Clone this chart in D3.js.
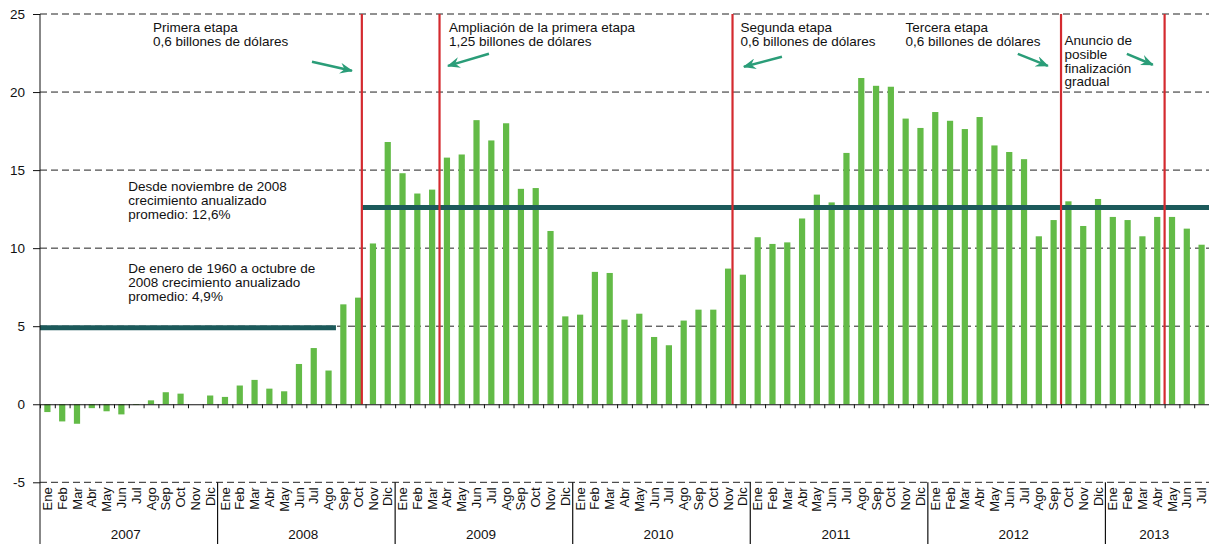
<!DOCTYPE html>
<html>
<head>
<meta charset="utf-8">
<script src="https://cdn.jsdelivr.net/npm/d3@7"></script>
<style>
  body { margin: 0; background: #fff; }
  svg { display: block; font-family: "Liberation Sans", Arial, sans-serif; }
</style>
</head>
<body>
<div id="chart"></div>
<script>
// month names and years shown on the x axis
const months = ["Ene", "Feb", "Mar", "Abr", "May", "Jun", "Jul", "Ago", "Sep", "Oct", "Nov", "Dic"];
const years = [2007, 2008, 2009, 2010, 2011, 2012, 2013];

// annualized growth, monthly (Ene 2007 .. Jul 2013)
const growth = [
  -0.5, -1.1, -1.25, -0.25, -0.45, -0.65, -0.05, 0.25, 0.77, 0.68, 0, 0.56,
  0.47, 1.2, 1.56, 1.0, 0.83, 2.58, 3.6, 2.16, 6.4, 6.83, 10.3, 16.8,
  14.8, 13.5, 13.75, 15.8, 16.0, 18.2, 16.9, 18.0, 13.8, 13.85, 11.1, 5.63,
  5.74, 8.48, 8.41, 5.42, 5.8, 4.31, 3.78, 5.36, 6.06, 6.06, 8.69, 8.3,
  10.7, 10.27, 10.37, 11.9, 13.43, 12.93, 16.1, 20.9, 20.4, 20.34, 18.3, 17.7,
  18.72, 18.16, 17.63, 18.4, 16.58, 16.16, 15.7, 10.76, 11.8, 13.0, 11.42, 13.15,
  12.0, 11.8, 10.76, 12.0, 12.0, 11.25, 10.22
];

const yTicks = [-5, 0, 5, 10, 15, 20, 25];

// average growth lines: [from month, to month, value]
const averages = [
  [0, 20, 4.9],
  [21.75, 79, 12.6]
];

// positions of the program stages (in months from Ene 2007)
const stageMarks = [21.75, 27, 46.8, 69, 76];

// annotation texts: month position, value of first baseline
const notes = [
  { at: 7.64, v: 23.83, lines: ["Primera etapa", "0,6 billones de dólares"] },
  { at: 27.64, v: 23.83, lines: ["Ampliación de la primera etapa", "1,25 billones de dólares"] },
  { at: 47.34, v: 23.83, lines: ["Segunda etapa", "0,6 billones de dólares"] },
  { at: 58.49, v: 23.83, lines: ["Tercera etapa", "0,6 billones de dólares"] },
  { at: 69.24, v: 23.03, lines: ["Anuncio de", "posible", "finalización", "gradual"] },
  { at: 5.97, v: 13.64, lines: ["Desde noviembre de 2008", "crecimiento anualizado", "promedio: 12,6%"] },
  { at: 5.97, v: 8.41, lines: ["De enero de 1960 a octubre de", "2008 crecimiento anualizado", "promedio: 4,9%"] }
];

// arrows: [from month, from value, to month, to value]
const arrows = [
  [18.38, 21.94, 21.08, 21.36],
  [30.34, 22.45, 27.57, 21.68],
  [50.14, 22.26, 47.57, 21.62],
  [66.08, 22.45, 68.11, 21.68],
  [73.45, 22.45, 75.2, 21.75]
];

const width = 1209, height = 544;
const left = 40, right = 1209;
const n = growth.length;

const labels = [];
years.forEach(yr => months.forEach(m => labels.push({ yr, m })));
labels.length = n;

const svg = d3.select("#chart").append("svg")
  .attr("width", width)
  .attr("height", height);

const y = d3.scaleLinear().domain([-5, 25]).range([482.3, 14]);
// month index -> boundary position
const pos = d3.scaleLinear().domain([0, n]).range([left, right]);
const x = d3.scaleBand()
  .domain(d3.range(n))
  .range([left, right])
  .paddingInner(0.58)
  .paddingOuter(0.29);

// dashed grid
svg.append("g").selectAll("line")
  .data(yTicks.filter(d => d !== 0))
  .join("line")
  .attr("x1", left).attr("x2", right)
  .attr("y1", d => y(d)).attr("y2", d => y(d))
  .attr("stroke", "#222")
  .attr("stroke-width", 1)
  .attr("stroke-dasharray", "7,4");

// bars
svg.append("g").selectAll("rect")
  .data(growth)
  .join("rect")
  .attr("x", (d, i) => x(i))
  .attr("width", x.bandwidth())
  .attr("y", d => y(Math.max(0, d)))
  .attr("height", d => Math.abs(y(d) - y(0)))
  .attr("fill", "#63bb47");

// average lines
svg.append("g").selectAll("line")
  .data(averages)
  .join("line")
  .attr("x1", d => pos(d[0])).attr("x2", d => pos(d[1]))
  .attr("y1", d => y(d[2])).attr("y2", d => y(d[2]))
  .attr("stroke", "#1c5a5b")
  .attr("stroke-width", 5);

// stage lines
svg.append("g").selectAll("line")
  .data(stageMarks)
  .join("line")
  .attr("x1", d => pos(d)).attr("x2", d => pos(d))
  .attr("y1", y(25)).attr("y2", y(0))
  .attr("stroke", "#d42a2f")
  .attr("stroke-width", 2.2);

// zero line with month ticks
svg.append("g")
  .attr("transform", `translate(0,${y(0)})`)
  .call(d3.axisBottom(pos).tickValues(d3.range(n + 1)).tickSize(4).tickSizeOuter(0).tickFormat(""))
  .call(g => g.selectAll("line, path").attr("stroke", "#111"));

// y axis
svg.append("g")
  .attr("transform", `translate(${left},0)`)
  .call(d3.axisLeft(y).tickValues(yTicks).tickSize(7).tickPadding(8).tickFormat(d => String(d)))
  .call(g => g.select(".domain").remove())
  .call(g => g.selectAll("line").attr("stroke", "#111"))
  .call(g => g.selectAll("text")
    .style("font-size", "13.5px")
    .style("font-family", "'Liberation Sans', Arial, sans-serif")
    .attr("fill", "#111"));

svg.append("line")
  .attr("x1", left).attr("x2", left)
  .attr("y1", y(25)).attr("y2", height)
  .attr("stroke", "#111");

// month labels
svg.append("g").selectAll("text")
  .data(labels)
  .join("text")
  .attr("transform", (d, i) => `translate(${x(i) + x.bandwidth() / 2},${y(-5) + 5}) rotate(-90)`)
  .attr("text-anchor", "end")
  .attr("dy", "0.35em")
  .attr("font-size", "13px")
  .attr("fill", "#111")
  .text(d => d.m);

// year separators and labels
const yearStarts = years.map((yr, i) => i * 12);
svg.append("g").selectAll("line")
  .data(yearStarts.slice(1))
  .join("line")
  .attr("x1", d => pos(d)).attr("x2", d => pos(d))
  .attr("y1", y(-5)).attr("y2", height)
  .attr("stroke", "#111")
  .attr("stroke-width", 1.2);

svg.append("g").selectAll("text")
  .data(years)
  .join("text")
  .attr("x", (d, i) => (pos(i * 12) + pos(Math.min(n, i * 12 + 12))) / 2 - 3)
  .attr("y", 539)
  .attr("text-anchor", "middle")
  .attr("font-size", "13.5px")
  .attr("fill", "#111")
  .text(d => d);

// annotation texts
const noteG = svg.append("g").selectAll("text")
  .data(notes)
  .join("text")
  .attr("x", d => pos(d.at))
  .attr("y", d => y(d.v))
  .attr("font-size", "13.5px")
  .attr("fill", "#111");
noteG.selectAll("tspan")
  .data(d => d.lines.map(t => ({ t, at: d.at })))
  .join("tspan")
  .attr("x", d => pos(d.at))
  .attr("dy", (d, i) => i === 0 ? 0 : 13.9)
  .text(d => d.t);

// arrows
svg.append("defs").append("marker")
  .attr("id", "head")
  .attr("markerUnits", "userSpaceOnUse")
  .attr("viewBox", "0 0 12 10")
  .attr("markerWidth", 13)
  .attr("markerHeight", 11)
  .attr("refX", 11)
  .attr("refY", 5)
  .attr("orient", "auto")
  .append("path")
  .attr("d", "M0,0 L12,5 L0,10 L4,5 Z")
  .attr("fill", "#2a9d78");

svg.append("g").selectAll("line")
  .data(arrows)
  .join("line")
  .attr("x1", d => pos(d[0])).attr("y1", d => y(d[1]))
  .attr("x2", d => pos(d[2])).attr("y2", d => y(d[3]))
  .attr("stroke", "#2a9d78")
  .attr("stroke-width", 2.5)
  .attr("marker-end", "url(#head)");
</script>
</body>
</html>
